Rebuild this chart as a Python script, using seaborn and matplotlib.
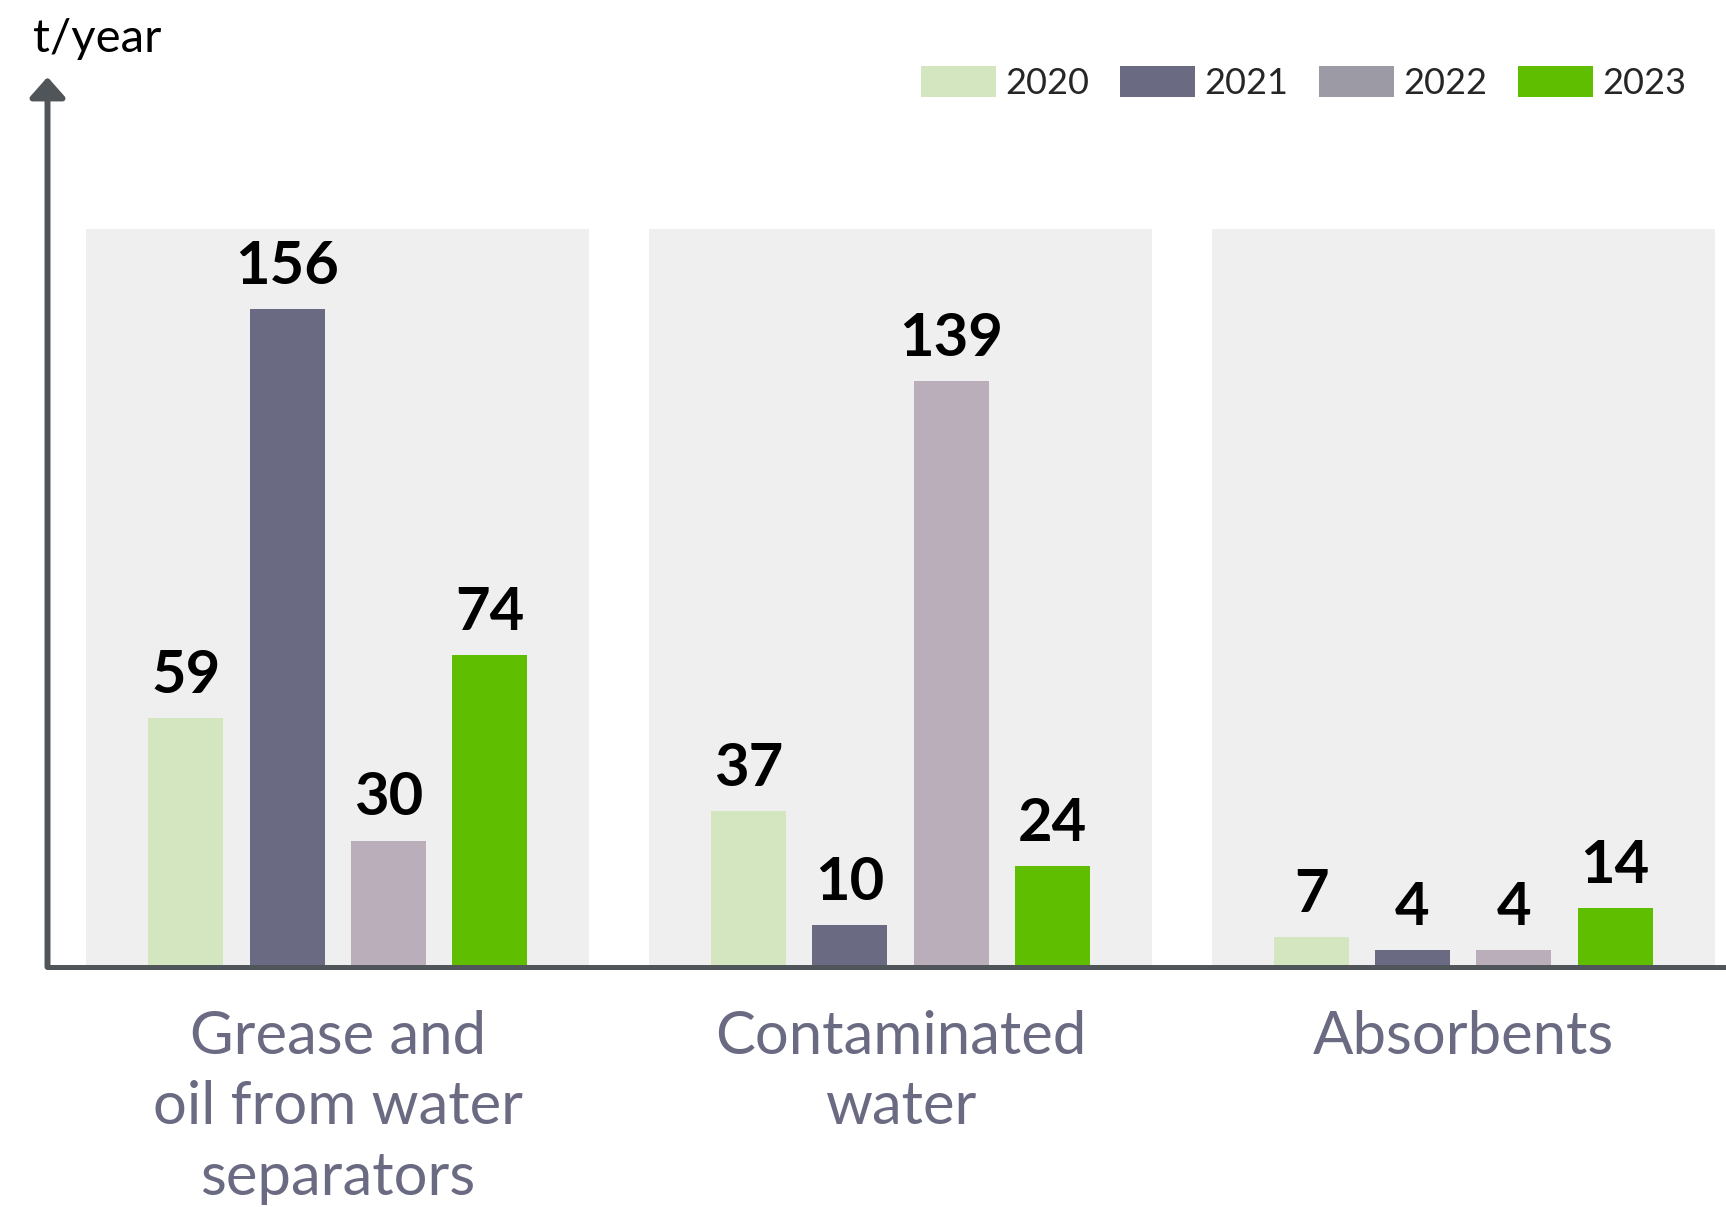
import numpy as np
import pandas as pd
import matplotlib
matplotlib.use("Agg")
import matplotlib.pyplot as plt
from matplotlib.patches import Patch
import seaborn as sns

categories = ["Grease and\noil from water\nseparators", "Contaminated\nwater", "Absorbents"]
years = ["2020", "2021", "2022", "2023"]
values_2020 = [59, 37, 7]
values_2021 = [156, 10, 4]
values_2022 = [30, 139, 4]
values_2023 = [74, 24, 14]
bar_colors = ["#d4e6bf", "#6a6a82", "#bbaebb", "#5fbe00"]
legend_colors = ["#d4e6bf", "#6a6a82", "#9b9aa5", "#5fbe00"]
unit_label = "t/year"
panel_height = 175

rows = []
for yr, vals in zip(years, [values_2020, values_2021, values_2022, values_2023]):
    for c, v in zip(categories, vals):
        rows.append({"category": c, "year": yr, "value": v})
df = pd.DataFrame(rows)

sns.set_theme(style="white")
plt.rcParams["font.family"] = ["Lato", "DejaVu Sans"]

W, H = 1726, 1207
fig = plt.figure(figsize=(W / 100, H / 100), dpi=100)
left = 47.5 / W
base_y = 967.0
top_y = 77.0
ax = fig.add_axes([left, 1 - base_y / H, 1 - left, (base_y - top_y) / H])

sns.barplot(data=df, x="category", y="value", hue="year", order=categories,
            hue_order=years, palette=bar_colors, width=0.72, gap=0.26,
            saturation=1, ax=ax, legend=False, zorder=2, linewidth=0,
            edgecolor="none")

ax.bar(np.arange(len(categories)), [panel_height] * len(categories), width=0.894,
       color="#efefef", zorder=0, linewidth=0)

for cont in ax.containers[:len(years)]:
    ax.bar_label(cont, fmt="%d", padding=11, fontsize=43, fontweight="bold",
                 color="black")

px_per_unit = 4.216
ax.set_ylim(0, (base_y - top_y) / px_per_unit)
ax.set_xlim(-0.516, 2.467)
ax.set_xlabel("")
ax.set_ylabel("")
ax.set_yticks([])
ax.set_xticks(np.arange(len(categories)))
ax.set_xticklabels(categories, fontsize=43, color="#6a6a82", fontweight="normal",
                   linespacing=1.37)
ax.tick_params(axis="x", length=0, pad=31)

for s in ["top", "right", "left"]:
    ax.spines[s].set_visible(False)
ax.spines["bottom"].set_color("#50555a")
ax.spines["bottom"].set_linewidth(3.6)
ax.spines["bottom"].set_capstyle("round")

ax.annotate("", xy=(0, 1), xytext=(0, 0), xycoords="axes fraction",
            textcoords="axes fraction",
            arrowprops=dict(arrowstyle="-|>,head_length=0.61,head_width=0.54",
                            mutation_scale=20, color="#50555a", lw=4.3,
                            shrinkA=0, shrinkB=0, capstyle="round"),
            annotation_clip=False)

fig.text(33 / W, 1 - 38.5 / H, unit_label, fontsize=34, color="black",
         va="center", ha="left")

handles = [Patch(facecolor=c, edgecolor="none", label=y) for c, y in zip(legend_colors, years)]
fig.legend(handles=handles, ncol=4, loc="center right",
           bbox_to_anchor=(1686 / W, 1 - 83 / H), frameon=False, fontsize=26,
           handlelength=2.08, handleheight=0.92, handletextpad=0.25,
           columnspacing=0.85, borderaxespad=0, borderpad=0)

fig.savefig("out.png", dpi=100, facecolor="white")
